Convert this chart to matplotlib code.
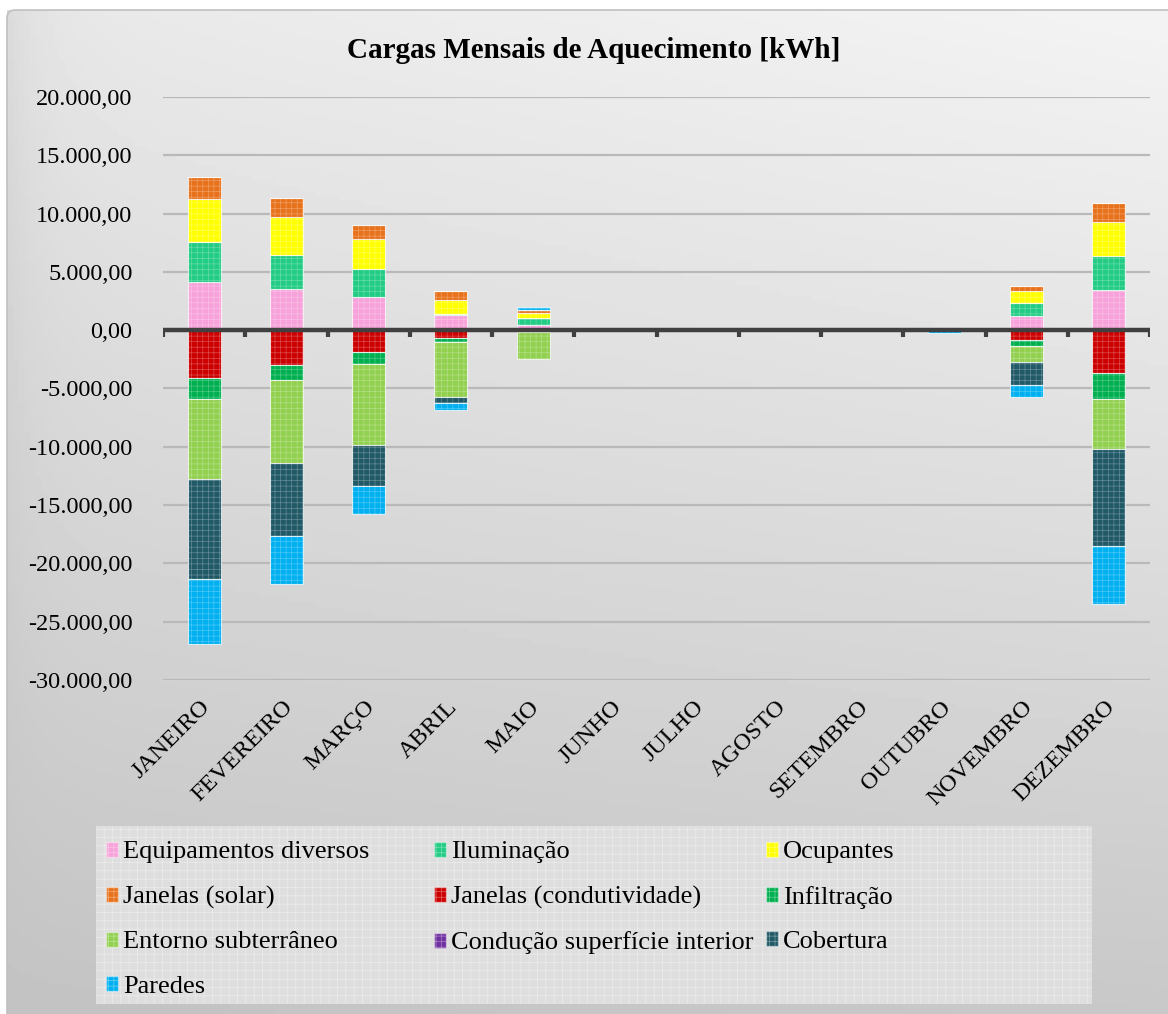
import numpy as np
import matplotlib
matplotlib.use('Agg')
import matplotlib.pyplot as plt
from matplotlib.patches import Patch, Rectangle, FancyBboxPatch
from matplotlib.ticker import FuncFormatter
import matplotlib.transforms as mtransforms

plt.rcParams['font.family'] = ['Liberation Serif', 'DejaVu Serif']
plt.rcParams['hatch.linewidth'] = 0.5

# Monthly heating loads [kWh]
months = ['JANEIRO', 'FEVEREIRO', 'MARÇO', 'ABRIL', 'MAIO', 'JUNHO', 'JULHO',
          'AGOSTO', 'SETEMBRO', 'OUTUBRO', 'NOVEMBRO', 'DEZEMBRO']

equipamentos = [4100, 3540, 2880, 1330, 470, 0, 0, 0, 0, 0, 1200, 3410]
iluminacao = [3500, 2910, 2370, 100, 540, 0, 0, 0, 0, 0, 1150, 2920]
ocupantes = [3660, 3230, 2600, 1190, 430, 0, 0, 0, 0, 0, 970, 2910]
janelas_solar = [1920, 1670, 1180, 770, 290, 0, 0, 0, 0, 60, 490, 1700]
janelas_cond = [-4100, -2990, -1850, -670, -150, 0, 0, 0, 0, 0, -820, -3660]
infiltracao = [-1810, -1290, -1050, -320, 0, 0, 0, 0, 0, 0, -550, -2230]
entorno = [-6860, -7070, -6930, -4720, -2320, 0, 0, 0, 0, 0, -1380, -4290]
conducao = [0, 0, 0, 0, 0, 0, 0, 0, 0, 0, 0, 0]
cobertura = [-8530, -6290, -3520, -540, 0, 0, 0, 0, 0, 0, -1910, -8300]
paredes = [-5640, -4100, -2380, -600, 230, 0, 0, 0, 0, -250, -1090, -5010]

series_names = ['Equipamentos diversos', 'Iluminação', 'Ocupantes', 'Janelas (solar)',
                'Janelas (condutividade)', 'Infiltração', 'Entorno subterrâneo',
                'Condução superfície interior', 'Cobertura', 'Paredes']
series_values = [equipamentos, iluminacao, ocupantes, janelas_solar, janelas_cond,
                 infiltracao, entorno, conducao, cobertura, paredes]
series_colors = ['#f7a2da', '#22cc84', '#ffff00', '#e8721c', '#cc0000',
                 '#00b050', '#92d050', '#7030a0', '#215967', '#00b0f0']

W, H = 1168, 1014
fig = plt.figure(figsize=(W / 100, H / 100), dpi=100)
fig.patch.set_facecolor('white')

# background gradient of the chart area
bg = fig.add_axes([0, 0, 1, 1], zorder=-10)
bg.set_xlim(0, W)
bg.set_ylim(0, H)
bg.axis('off')
gx = np.linspace(0, 1, 200)
gy = np.linspace(0, 1, 200)
X, Y = np.meshgrid(gx, gy)  # Y=0 at bottom
tl, tr, bl, br = 0.91, 0.955, 0.765, 0.785
grad = (tl * (1 - X) * Y + tr * X * Y + bl * (1 - X) * (1 - Y) + br * X * (1 - Y))
grad = grad - 0.05 * np.exp(-X / 0.03) * Y
bg.imshow(grad, extent=[7, W + 5, 0, H - 10], origin='lower', cmap='gray',
          vmin=0, vmax=1, aspect='auto', zorder=0)
bg.add_patch(FancyBboxPatch((7, -20), W + 20, H - 10 + 20, boxstyle='round,pad=0,rounding_size=8',
                            facecolor='none', edgecolor='#c0c0c0', lw=1.2, zorder=1))

# legend box with texture
bg.add_patch(Rectangle((96, H - 1004), 996, 178, facecolor='#dedede', edgecolor='#ececec',
                       hatch='++', lw=0, zorder=2))

ax = fig.add_axes([163 / W, (H - 680) / H, (1150 - 163) / W, (680 - 97) / H])
ax.set_facecolor('none')

x = np.arange(len(months))
pos_bottom = np.zeros(len(months))
neg_bottom = np.zeros(len(months))
for name, vals, col in zip(series_names, series_values, series_colors):
    vals = np.array(vals, dtype=float)
    bottoms = np.where(vals >= 0, pos_bottom, neg_bottom)
    ax.bar(x, vals, 0.4, bottom=bottoms, color=col, edgecolor=(1, 1, 1, 0.3),
           linewidth=0.8, hatch='+++', zorder=3)
    ax.bar(x, vals, 0.4, bottom=bottoms, color='none', edgecolor=(1, 1, 1, 0.6),
           linewidth=0.8, zorder=3)
    pos_bottom += np.where(vals > 0, vals, 0)
    neg_bottom += np.where(vals < 0, vals, 0)

ax.set_xlim(-0.5, len(months) - 0.5)
ax.set_ylim(-30000, 20000)
ax.set_yticks(np.arange(-30000, 20001, 5000))
ax.yaxis.set_major_formatter(FuncFormatter(
    lambda v, p: f'{v:,.2f}'.replace(',', 'X').replace('.', ',').replace('X', '.')))
ax.yaxis.grid(True, color='#b9b9b9', linewidth=1.6, zorder=1)
ax.set_axisbelow(True)
for s in ax.spines.values():
    s.set_visible(False)
ax.tick_params(axis='y', length=0, pad=22, labelsize=17.5)

# category axis at zero
ax.axhline(0, color='#404040', linewidth=3.2, zorder=4)
ax.vlines(np.arange(len(months) + 1) - 0.5, -550, 0, color='#404040', linewidth=3, zorder=4)

ax.set_xticks(x)
ax.set_xticklabels([])
ax.tick_params(axis='x', length=0)
offset = mtransforms.ScaledTranslation(0.03, -0.24, fig.dpi_scale_trans)
trans = ax.get_xaxis_transform() + offset
for xi, lab in zip(x, months):
    ax.text(xi, 0, lab, transform=trans, rotation=45, rotation_mode='anchor',
            ha='right', va='center', fontsize=17.5)

fig.text(594 / W, 1 - 51 / H, 'Cargas Mensais de Aquecimento [kWh]', ha='center', va='center',
         fontsize=21, fontweight='bold')

# legend: three columns placed like the reference
handles = [Patch(facecolor=c, edgecolor=(1, 1, 1, 0.4), hatch='+++') for c in series_colors]
columns = [[0, 3, 6, 9], [1, 4, 7], [2, 5, 8]]
col_x = [88, 416, 748]
for cx, idx in zip(col_x, columns):
    fig.legend([handles[i] for i in idx], [series_names[i] for i in idx],
               loc='upper left', bbox_to_anchor=(cx / W, 1 - 823 / H),
               frameon=False, fontsize=19, handlelength=0.45, handleheight=0.5,
               handletextpad=0.18, labelspacing=0.85, borderpad=0.2)

fig.savefig('out.png', dpi=100)
